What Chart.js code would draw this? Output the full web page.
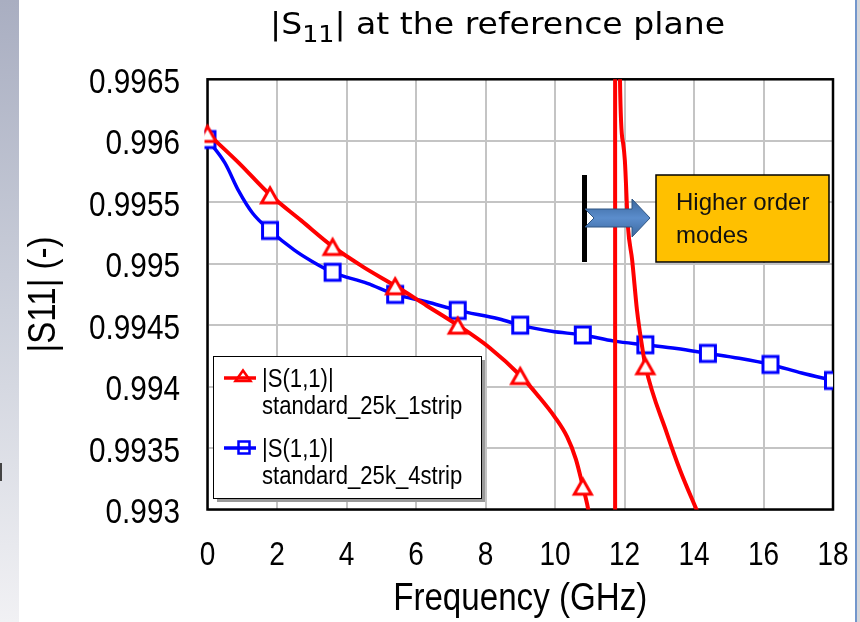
<!DOCTYPE html>
<html>
<head>
<meta charset="utf-8">
<title>|S11| at the reference plane</title>
<script src="https://cdn.jsdelivr.net/npm/chart.js@4.4.1/dist/chart.umd.min.js"></script>
<style>
  html, body { margin: 0; padding: 0; background: #fff; }
  canvas { display: block; }
</style>
</head>
<body>
<canvas id="chart" width="860" height="622"></canvas>
<script>
// axis ticks
const xTicks = [0, 2, 4, 6, 8, 10, 12, 14, 16, 18];
const xTickLabels = ['0', '2', '4', '6', '8', '10', '12', '14', '16', '18'];
const yTicks = [0.993, 0.9935, 0.994, 0.9945, 0.995, 0.9955, 0.996, 0.9965];
const yTickLabels = ['0.993', '0.9935', '0.994', '0.9945', '0.995', '0.9955', '0.996', '0.9965'];

// |S(1,1)| standard_25k_1strip (GHz / magnitude)
const freq1 = [0, 0.9, 1.8, 2.7, 3.6, 4.5, 5.4, 6.3, 7.2, 8.1, 9, 9.5, 10, 10.35, 10.6, 10.8, 10.95,
  11.2, 11.5, 11.73, 11.73, 11.87, 11.96, 12.01, 12.1, 12.22, 12.36, 12.51, 12.6, 13.22, 13.6, 14.1];
const s11_1 = [0.99606, 0.99582, 0.99556, 0.99535, 0.99514, 0.99497, 0.99482, 0.99466, 0.9945, 0.99432,
  0.99409, 0.99393, 0.99375, 0.99359, 0.99341, 0.99319, 0.99301, 0.99259, 0.9915, 0.988, 1.006, 0.9965,
  0.99598, 0.99584, 0.9953, 0.99503, 0.99462, 0.99432, 0.99417, 0.99362, 0.99332, 0.99298];

// |S(1,1)| standard_25k_4strip
const freq4 = [0, 0.5, 0.9, 1.3, 1.8, 2.5, 3, 3.6, 4.6, 5.4, 6.3, 7.2, 8.4, 9, 9.9, 10.8, 11.7, 12.6,
  13.5, 14.4, 15.3, 16.2, 17.1, 18];
const s11_4 = [0.99601, 0.99582, 0.99559, 0.99541, 0.99527, 0.99511, 0.99502, 0.99493, 0.99484, 0.99475,
  0.99469, 0.99462, 0.99455, 0.9945, 0.99445, 0.99442, 0.99437, 0.99434, 0.99431, 0.99427, 0.99423,
  0.99418, 0.99411, 0.99405];

// points that get a marker
const markerFreqs = [0, 1.8, 3.6, 5.4, 7.2, 9, 10.8, 12.6, 14.4, 16.2, 18];

const seriesLabels = [['|S(1,1)|', 'standard_25k_1strip'], ['|S(1,1)|', 'standard_25k_4strip']];
const seriesColors = ['#ff0000', '#0000ff'];

const sans = '"Liberation Sans", Arial, sans-serif';
const squeeze = 0.85; // axis and legend lettering is set narrow

// marker images: outlined, white inside
function triangleMarker(color) {
  const c = document.createElement('canvas');
  c.width = 26; c.height = 26;
  const g = c.getContext('2d');
  g.beginPath();
  g.moveTo(13, 6); g.lineTo(21.5, 21); g.lineTo(4.5, 21); g.closePath();
  g.fillStyle = '#fff'; g.fill();
  g.lineWidth = 3; g.strokeStyle = color; g.stroke();
  return c;
}
function squareMarker(color) {
  const c = document.createElement('canvas');
  c.width = 22; c.height = 22;
  const g = c.getContext('2d');
  g.fillStyle = '#fff'; g.fillRect(3.5, 3, 15, 16);
  g.lineWidth = 3; g.strokeStyle = color; g.strokeRect(3.5, 3, 15, 16);
  return c;
}

const toPoints = (xs, ys) => xs.map((x, i) => ({ x: x, y: ys[i] }));
const markerRadius = (c) => (c.raw && markerFreqs.includes(c.raw.x) ? 9 : 0);

function narrowText(ctx, text, x, y, size, align, angle) {
  ctx.save();
  ctx.translate(x, y);
  if (angle) ctx.rotate(angle);
  ctx.scale(squeeze, 1);
  ctx.font = size + 'px ' + sans;
  ctx.textAlign = align;
  ctx.textBaseline = 'alphabetic';
  ctx.fillStyle = '#000';
  ctx.fillText(text, 0, 0);
  ctx.restore();
}

function drawAxisText(chart) {
  const { ctx, chartArea: a } = chart;
  const xs = chart.scales.x, ys = chart.scales.y;
  xs.ticks.forEach((t, i) => narrowText(ctx, xTickLabels[i], xs.getPixelForValue(t.value), 565, 33, 'center'));
  ys.ticks.forEach((t, i) => narrowText(ctx, yTickLabels[i], 180, ys.getPixelForValue(t.value) + 13.5, 35, 'right'));
  narrowText(ctx, 'Frequency (GHz)', (a.left + a.right) / 2, 610, 39, 'center');
  narrowText(ctx, '|S11| (-)', 55, (a.top + a.bottom) / 2, 39, 'center', -Math.PI / 2);
}

function drawTitle(ctx) {
  const main = '30px "DejaVu Sans", Verdana, sans-serif';
  const sub = '23px "DejaVu Sans", Verdana, sans-serif';
  ctx.save();
  ctx.fillStyle = '#000';
  ctx.textBaseline = 'alphabetic';
  ctx.font = main;
  const w1 = ctx.measureText('|S').width;
  const w3 = ctx.measureText('| at the reference plane').width;
  ctx.font = sub;
  const w2 = ctx.measureText('11').width;
  const sx = 455 / (w1 + w2 + w3);
  ctx.translate(270, 34);
  ctx.scale(sx, 1);
  ctx.font = main;
  ctx.fillText('|S', 0, 0);
  ctx.font = sub;
  ctx.fillText('11', w1, 8);
  ctx.font = main;
  ctx.fillText('| at the reference plane', w1 + w2, 0);
  ctx.restore();
}

function drawLegend(ctx) {
  const x = 213, y = 356, w = 268, h = 142;
  ctx.save();
  ctx.fillStyle = '#9a9a9a';
  ctx.fillRect(x + 4, y + 4, w, h);
  ctx.fillStyle = '#fff';
  ctx.fillRect(x, y, w, h);
  ctx.lineWidth = 1;
  ctx.strokeStyle = '#000';
  ctx.strokeRect(x + 0.5, y + 0.5, w, h);

  seriesLabels.forEach((lines, i) => {
    const ly = 378 + i * 70;
    ctx.strokeStyle = seriesColors[i];
    ctx.fillStyle = '#fff';
    ctx.lineWidth = 2.5;
    ctx.beginPath();
    if (i === 0) {
      ctx.moveTo(243, 370.5); ctx.lineTo(250.5, 381); ctx.lineTo(235.5, 381); ctx.closePath();
    } else {
      ctx.rect(238.5, 441.5, 11, 12);
    }
    ctx.fill();
    ctx.stroke();
    ctx.lineWidth = 3.5;
    ctx.beginPath();
    ctx.moveTo(224, ly); ctx.lineTo(256, ly);
    ctx.stroke();

    narrowText(ctx, lines[0], 262, ly + 9, 26, 'left');
    narrowText(ctx, lines[1], 262, ly + 36, 26, 'left');
  });
  ctx.restore();
}

function drawNote(ctx) {
  ctx.save();
  // cut-off bar
  ctx.fillStyle = '#000';
  ctx.fillRect(582, 175, 5, 87);

  // notched arrow
  const grad = ctx.createLinearGradient(0, 199, 0, 237);
  grad.addColorStop(0, '#3a679e');
  grad.addColorStop(0.5, '#5b8dcc');
  grad.addColorStop(1, '#3a679e');
  ctx.beginPath();
  ctx.moveTo(585, 209); ctx.lineTo(632, 209); ctx.lineTo(632, 199); ctx.lineTo(650, 218);
  ctx.lineTo(632, 237); ctx.lineTo(632, 227); ctx.lineTo(585, 227); ctx.lineTo(594, 218);
  ctx.closePath();
  ctx.fillStyle = grad;
  ctx.fill();
  ctx.lineWidth = 1;
  ctx.strokeStyle = '#2e5482';
  ctx.stroke();

  // label box
  ctx.fillStyle = '#ffc000';
  ctx.fillRect(656, 175, 173, 87);
  ctx.lineWidth = 1.5;
  ctx.strokeStyle = '#000';
  ctx.strokeRect(656, 175, 173, 87);
  ctx.fillStyle = '#111';
  ctx.font = '24px ' + sans;
  ctx.fillText('Higher order', 676, 210);
  ctx.fillText('modes', 676, 243);
  ctx.restore();
}

const decor = {
  id: 'decor',
  beforeDraw(chart) {
    const { ctx, height } = chart;
    ctx.save();
    const g = ctx.createLinearGradient(0, 0, 0, height);
    g.addColorStop(0, '#a9aec1');
    g.addColorStop(0.5, '#ccd0db');
    g.addColorStop(1, '#f1f1f4');
    ctx.fillStyle = g;
    ctx.fillRect(0, 0, 19, height);
    ctx.fillStyle = '#444';
    ctx.fillRect(0, 463, 2, 18);
    ctx.fillStyle = '#7396cc';
    ctx.fillRect(855, 0, 2, height);
    ctx.fillStyle = '#d6d6da';
    ctx.fillRect(857, 0, 3, height);
    ctx.restore();
  },
  beforeDatasetsDraw(chart) {
    const { ctx, chartArea: a } = chart;
    ctx.save();
    ctx.strokeStyle = '#000';
    ctx.lineWidth = 2.5;
    ctx.strokeRect(a.left, a.top, a.right - a.left, a.bottom - a.top);
    ctx.restore();
  },
  afterDraw(chart) {
    const ctx = chart.ctx;
    drawAxisText(chart);
    drawTitle(ctx);
    drawLegend(ctx);
    drawNote(ctx);
  }
};

const gridOpts = { color: '#c4c4c4', lineWidth: 2, drawTicks: false };

new Chart(document.getElementById('chart'), {
  type: 'line',
  data: {
    datasets: [
      {
        label: seriesLabels[0].join(' '),
        data: toPoints(freq1, s11_1),
        borderColor: seriesColors[0],
        borderWidth: 4,
        cubicInterpolationMode: 'monotone',
        pointStyle: triangleMarker(seriesColors[0]),
        pointRadius: markerRadius,
        clip: { left: 3, top: 0, right: 0, bottom: 0 }
      },
      {
        label: seriesLabels[1].join(' '),
        data: toPoints(freq4, s11_4),
        borderColor: seriesColors[1],
        borderWidth: 3.5,
        cubicInterpolationMode: 'monotone',
        pointStyle: squareMarker(seriesColors[1]),
        pointRadius: markerRadius,
        clip: { left: 3, top: 0, right: 0, bottom: 0 }
      }
    ]
  },
  options: {
    responsive: false,
    animation: false,
    events: [],
    layout: { padding: { top: 79.3, right: 27, bottom: 0, left: 0 } },
    plugins: {
      legend: { display: false },
      title: { display: false },
      tooltip: { enabled: false }
    },
    scales: {
      x: {
        type: 'linear',
        min: 0,
        max: 18,
        grid: gridOpts,
        border: { display: false },
        afterBuildTicks: (s) => { s.ticks = xTicks.map(v => ({ value: v })); },
        afterFit: (s) => { s.height = 112.5; s.paddingLeft = 0; s.paddingRight = 0; },
        ticks: { display: false, autoSkip: false }
      },
      y: {
        type: 'linear',
        min: 0.993,
        max: 0.9965,
        grid: gridOpts,
        border: { display: false },
        afterBuildTicks: (s) => { s.ticks = yTicks.map(v => ({ value: v })); },
        afterFit: (s) => { s.width = 207.5; s.paddingTop = 0; s.paddingBottom = 0; },
        ticks: { display: false, autoSkip: false }
      }
    }
  },
  plugins: [decor]
});
</script>
</body>
</html>
